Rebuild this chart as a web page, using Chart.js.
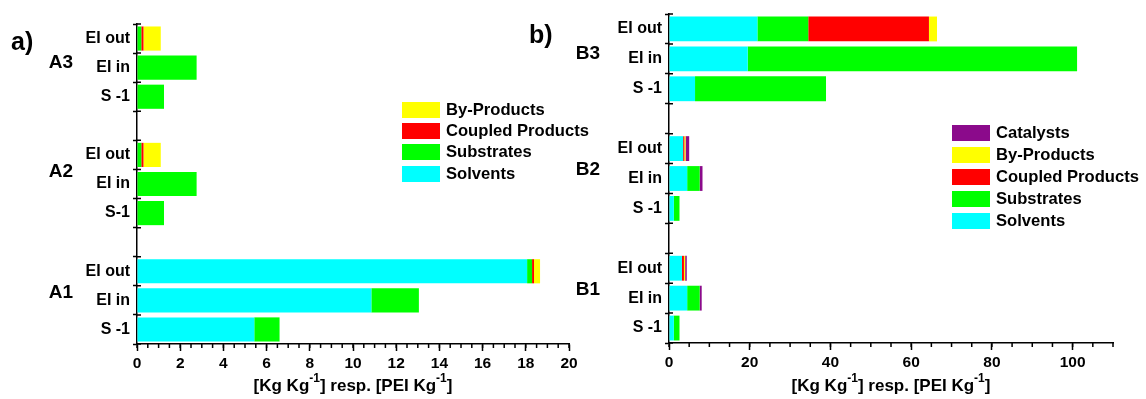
<!DOCTYPE html>
<html>
<head>
<meta charset="utf-8">
<script src="https://cdn.jsdelivr.net/npm/chart.js@4.4.0/dist/chart.umd.min.js"></script>
<style>
body { margin: 0; background: #fff; }
#wrap { position: relative; width: 1146px; height: 399px; font-family: "Liberation Sans", Arial, sans-serif; font-weight: bold; }
#wrap canvas { position: absolute; top: 0; }
.legend { position: absolute; font-size: 16.6px; color: #000; white-space: nowrap; }
.legend .row { display: flex; align-items: center; }
.legend .box { display: inline-block; width: 38px; height: 16px; margin-right: 6px; }
</style>
</head>
<body>
<div id="wrap">
  <canvas id="chartA" width="600" height="399" style="left:0"></canvas>
  <canvas id="chartB" width="626" height="399" style="left:520px"></canvas>
  <div class="legend" id="legendA" style="left:402px;top:99px"></div>
  <div class="legend" id="legendB" style="left:952px;top:122px"></div>
</div>
<script>
// panel a)
var labelsA = ['EI out', 'EI in', 'S -1', '', 'EI out', 'EI in', 'S-1', '', 'EI out', 'EI in', 'S -1'];
var groupsA = ['A3', 'A2', 'A1'];
var groupPosA = [0.84, 4.59, 8.74];
var ticksA = [0, 2, 4, 6, 8, 10, 12, 14, 16, 18, 20];
var solventsA = [0, 0, 0, null, 0, 0, 0, null, 18.06, 10.85, 5.43];
var substratesA = [0.2, 2.76, 1.25, null, 0.2, 2.76, 1.25, null, 0.23, 2.2, 1.17];
var coupledA = [0.1, 0, 0, null, 0.1, 0, 0, null, 0.09, 0, 0];
var byProductsA = [0.8, 0, 0, null, 0.8, 0, 0, null, 0.28, 0, 0];

// panel b)
var labelsB = ['EI out', 'EI in', 'S -1', '', 'EI out', 'EI in', 'S -1', '', 'EI out', 'EI in', 'S -1'];
var groupsB = ['B3', 'B2', 'B1'];
var groupPosB = [0.84, 4.72, 8.73];
var ticksB = [0, 20, 40, 60, 80, 100];
var solventsB = [21.9, 19.5, 6.45, null, 3.5, 4.5, 1.2, null, 3.2, 4.5, 1.2];
var substratesB = [12.6, 81.6, 32.45, null, 0, 3.1, 1.4, null, 0, 3.1, 1.4];
var coupledB = [29.9, 0, 0, null, 0.3, 0, 0, null, 0.5, 0, 0];
var byProductsB = [2.0, 0, 0, null, 0.3, 0, 0, null, 0.3, 0, 0];
var catalystsB = [0, 0, 0, null, 0.9, 0.7, 0, null, 0.4, 0.5, 0];

var colors = {
    'Solvents': '#00ffff',
    'Substrates': '#00ff00',
    'Coupled Products': '#ff0000',
    'By-Products': '#ffff00',
    'Catalysts': '#8b0a8b'
};
var fontFam = '"Liberation Sans", Arial, sans-serif';
Chart.defaults.font.family = fontFam;
Chart.defaults.color = '#000';

function ds(name, data) {
    return {
        label: name,
        data: data,
        backgroundColor: colors[name],
        borderWidth: 0,
        barPercentage: 0.83,
        categoryPercentage: 1
    };
}

// extra drawing: minor ticks, group names, panel letter, axis title with superscripts
var decorPlugin = {
    id: 'decor',
    afterDraw: function (chart) {
        var o = chart.options.plugins.decor;
        var ctx = chart.ctx;
        var xs = chart.scales.x, ys = chart.scales.y;
        var area = chart.chartArea;
        ctx.save();
        ctx.strokeStyle = '#000';
        ctx.lineWidth = 1.5;
        ctx.beginPath();
        for (var v = xs.min; v <= xs.max + 1e-9; v += o.minorStep) {
            var px = xs.getPixelForValue(v);
            ctx.moveTo(px, area.bottom);
            ctx.lineTo(px, area.bottom + 4);
        }
        for (var i = 0; i <= ys.ticks.length; i++) {
            var py = ys.getPixelForValue(i - 0.5);
            ctx.moveTo(area.left, py);
            ctx.lineTo(area.left + 4, py);
        }
        ctx.stroke();

        ctx.fillStyle = '#000';
        ctx.textAlign = 'center';
        ctx.textBaseline = 'middle';
        ctx.font = 'bold 19px ' + fontFam;
        o.groups.forEach(function (g, k) {
            ctx.fillText(g, o.groupX, ys.getPixelForValue(o.groupPos[k]));
        });

        ctx.textAlign = 'left';
        ctx.font = 'bold 25px ' + fontFam;
        ctx.fillText(o.panel, o.panelX, o.panelY);

        // axis title
        var parts = [['[Kg Kg', 0], ['-1', 1], ['] resp. [PEI Kg', 0], ['-1', 1], [']', 0]];
        var big = 'bold 17px ' + fontFam, small = 'bold 12px ' + fontFam;
        var total = 0;
        parts.forEach(function (p) {
            ctx.font = p[1] ? small : big;
            total += ctx.measureText(p[0]).width;
        });
        var x = (area.left + area.right) / 2 - total / 2;
        ctx.textBaseline = 'alphabetic';
        parts.forEach(function (p) {
            ctx.font = p[1] ? small : big;
            ctx.fillText(p[0], x, p[1] ? 382 : 391);
            x += ctx.measureText(p[0]).width;
        });
        ctx.restore();
    }
};

function makeChart(id, labels, datasets, xMax, majorTicks, minorStep, pad, yWidth, xHeight, decor) {
    return new Chart(document.getElementById(id), {
        type: 'bar',
        data: { labels: labels, datasets: datasets },
        options: {
            indexAxis: 'y',
            responsive: false,
            animation: false,
            devicePixelRatio: 1,
            layout: { padding: pad },
            plugins: { legend: { display: false }, tooltip: { enabled: false }, decor: decor },
            scales: {
                x: {
                    stacked: true,
                    min: 0,
                    max: xMax,
                    afterBuildTicks: function (s) { s.ticks = majorTicks.map(function (v) { return { value: v }; }); },
                    afterFit: function (s) { s.height = xHeight; },
                    grid: { drawOnChartArea: false, color: '#000', tickColor: '#000', tickLength: 7, tickWidth: 1.5 },
                    border: { color: '#000', width: 1.5 },
                    ticks: { font: { size: 15.5, weight: 'bold' }, color: '#000', padding: 3, maxRotation: 0 }
                },
                y: {
                    stacked: true,
                    afterFit: function (s) { s.width = yWidth; },
                    grid: { drawOnChartArea: false, color: '#000', tickColor: '#000', tickLength: 4, tickWidth: 1.5 },
                    border: { color: '#000', width: 1.5 },
                    ticks: { font: { size: 16, weight: 'bold' }, color: '#000', padding: 3, autoSkip: false }
                }
            }
        },
        plugins: [decorPlugin]
    });
}

makeChart('chartA', labelsA, [
    ds('Solvents', solventsA),
    ds('Substrates', substratesA),
    ds('Coupled Products', coupledA),
    ds('By-Products', byProductsA)
], 20, ticksA, 0.5, { left: 0, right: 31, top: 24, bottom: 0 }, 137, 55,
    { minorStep: 0.5, groups: groupsA, groupPos: groupPosA, groupX: 61, panel: 'a)', panelX: 11, panelY: 43 });

makeChart('chartB', labelsB, [
    ds('Solvents', solventsB),
    ds('Substrates', substratesB),
    ds('Coupled Products', coupledB),
    ds('By-Products', byProductsB),
    ds('Catalysts', catalystsB)
], 110, ticksB, 5, { left: 0, right: 33, top: 14, bottom: 0 }, 149, 56,
    { minorStep: 5, groups: groupsB, groupPos: groupPosB, groupX: 68, panel: 'b)', panelX: 9, panelY: 36 });

function buildLegend(id, names, rowH) {
    var html = '';
    names.forEach(function (n) {
        html += '<div class="row" style="height:' + rowH + 'px"><span class="box" style="background:' + colors[n] + '"></span>' + n + '</div>';
    });
    document.getElementById(id).innerHTML = html;
}
buildLegend('legendA', ['By-Products', 'Coupled Products', 'Substrates', 'Solvents'], 21.3);
buildLegend('legendB', ['Catalysts', 'By-Products', 'Coupled Products', 'Substrates', 'Solvents'], 22);
</script>
</body>
</html>
